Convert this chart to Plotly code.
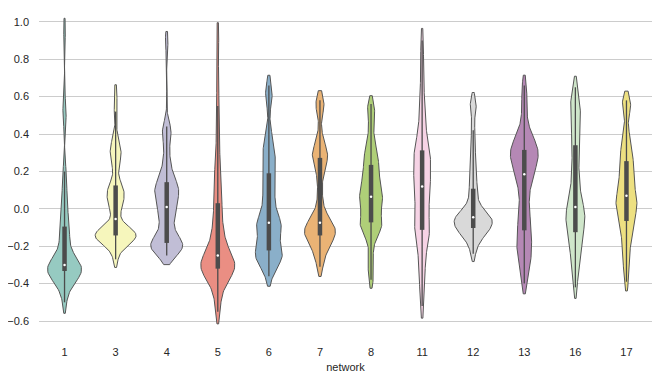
import colorsys
import numpy as np
import plotly.graph_objects as go

networks = ["1", "3", "4", "5", "6", "7", "8", "11", "12", "13", "16", "17"]

palette = ["#8dd3c7", "#ffffb3", "#bebada", "#fb8072", "#80b1d3", "#fdb462",
           "#b3de69", "#fccde5", "#d9d9d9", "#bc80bd", "#ccebc5", "#ffed6f"]

net_1 = [-0.50, -0.45, -0.41, -0.38, -0.37, -0.36, -0.35, -0.35, -0.34, -0.34,
         -0.33, -0.33, -0.33, -0.32, -0.32, -0.32, -0.31, -0.31, -0.31, -0.30,
         -0.30, -0.29, -0.28, -0.26, -0.23, -0.20, -0.17, -0.14, -0.12, -0.10,
         -0.08, -0.05, -0.01, 0.04, 0.09, 0.15, 0.20, 0.50, 0.53, 0.96]
net_3 = [-0.27, -0.22, -0.19, -0.17, -0.16, -0.16, -0.15, -0.15, -0.15, -0.15,
         -0.14, -0.14, -0.14, -0.14, -0.13, -0.13, -0.12, -0.12, -0.11, -0.09,
         -0.02, 0.00, 0.02, 0.04, 0.05, 0.07, 0.08, 0.10, 0.11, 0.12,
         0.14, 0.22, 0.26, 0.28, 0.30, 0.32, 0.35, 0.38, 0.52, 0.62]
net_4 = [-0.25, -0.23, -0.22, -0.21, -0.21, -0.20, -0.20, -0.20, -0.19, -0.19,
         -0.18, -0.17, -0.15, -0.13, -0.10, -0.07, -0.05, -0.03, -0.01, 0.00,
         0.02, 0.04, 0.06, 0.07, 0.08, 0.09, 0.10, 0.11, 0.12, 0.14,
         0.15, 0.17, 0.20, 0.24, 0.28, 0.35, 0.40, 0.42, 0.44, 0.90]
net_5 = [-0.55, -0.49, -0.44, -0.40, -0.37, -0.35, -0.34, -0.33, -0.33, -0.32,
         -0.32, -0.31, -0.31, -0.30, -0.30, -0.29, -0.29, -0.28, -0.27, -0.26,
         -0.24, -0.22, -0.20, -0.18, -0.16, -0.13, -0.10, -0.07, -0.03, 0.02,
         0.06, 0.09, 0.13, 0.17, 0.22, 0.30, 0.40, 0.55, 0.70, 0.93]
net_6 = [-0.36, -0.32, -0.29, -0.27, -0.26, -0.25, -0.25, -0.24, -0.24, -0.23,
         -0.22, -0.20, -0.17, -0.14, -0.12, -0.11, -0.10, -0.09, -0.08, -0.08,
         -0.07, -0.05, -0.02, 0.01, 0.04, 0.07, 0.10, 0.13, 0.16, 0.18,
         0.22, 0.26, 0.28, 0.30, 0.32, 0.36, 0.42, 0.58, 0.61, 0.66]
net_7 = [-0.31, -0.28, -0.25, -0.22, -0.20, -0.18, -0.17, -0.16, -0.15, -0.15,
         -0.14, -0.13, -0.13, -0.12, -0.11, -0.10, -0.10, -0.09, -0.08, -0.08,
         -0.07, -0.05, -0.02, 0.02, 0.08, 0.14, 0.20, 0.24, 0.26, 0.27,
         0.28, 0.29, 0.30, 0.32, 0.35, 0.40, 0.53, 0.55, 0.57, 0.58]
net_8 = [-0.38, -0.33, -0.28, -0.20, -0.15, -0.12, -0.11, -0.10, -0.09, -0.08,
         -0.07, -0.06, -0.04, -0.02, 0.00, 0.02, 0.03, 0.04, 0.05, 0.06,
         0.07, 0.09, 0.10, 0.12, 0.13, 0.15, 0.16, 0.18, 0.20, 0.23,
         0.25, 0.26, 0.28, 0.30, 0.33, 0.37, 0.42, 0.50, 0.53, 0.56]
net_11 = [-0.52, -0.45, -0.38, -0.32, -0.27, -0.22, -0.18, -0.15, -0.13, -0.12,
          -0.11, -0.09, -0.06, -0.03, 0.00, 0.03, 0.05, 0.07, 0.09, 0.11,
          0.13, 0.15, 0.17, 0.19, 0.21, 0.23, 0.25, 0.27, 0.29, 0.31,
          0.32, 0.34, 0.37, 0.41, 0.46, 0.52, 0.58, 0.66, 0.78, 0.90]
net_12 = [-0.24, -0.20, -0.17, -0.15, -0.14, -0.13, -0.12, -0.12, -0.11, -0.11,
          -0.10, -0.09, -0.08, -0.08, -0.07, -0.07, -0.06, -0.06, -0.05, -0.05,
          -0.04, -0.04, -0.04, -0.03, -0.02, -0.01, 0.01, 0.04, 0.07, 0.10,
          0.13, 0.16, 0.20, 0.25, 0.30, 0.36, 0.42, 0.52, 0.55, 0.58]
net_13 = [-0.40, -0.35, -0.30, -0.27, -0.25, -0.23, -0.21, -0.18, -0.15, -0.13,
          -0.11, -0.08, -0.05, -0.02, 0.02, 0.06, 0.10, 0.13, 0.16, 0.18,
          0.19, 0.21, 0.23, 0.25, 0.26, 0.27, 0.28, 0.29, 0.30, 0.31,
          0.33, 0.34, 0.35, 0.36, 0.38, 0.41, 0.45, 0.52, 0.60, 0.66]
net_16 = [-0.42, -0.36, -0.31, -0.27, -0.24, -0.21, -0.19, -0.17, -0.15, -0.14,
          -0.12, -0.10, -0.08, -0.07, -0.05, -0.04, -0.03, -0.02, -0.01, 0.00,
          0.02, 0.04, 0.07, 0.10, 0.13, 0.16, 0.20, 0.24, 0.28, 0.33,
          0.37, 0.40, 0.44, 0.48, 0.51, 0.53, 0.55, 0.57, 0.61, 0.65]
net_17 = [-0.39, -0.34, -0.29, -0.25, -0.21, -0.17, -0.14, -0.11, -0.09, -0.08,
          -0.06, -0.04, -0.02, -0.01, 0.00, 0.02, 0.03, 0.04, 0.05, 0.06,
          0.08, 0.09, 0.11, 0.13, 0.15, 0.17, 0.19, 0.21, 0.23, 0.25,
          0.27, 0.29, 0.31, 0.34, 0.37, 0.41, 0.52, 0.55, 0.57, 0.58]

series = [net_1, net_3, net_4, net_5, net_6, net_7, net_8,
          net_11, net_12, net_13, net_16, net_17]

# style: widest extent of each violin, as a fraction of one category slot
violin_widths = [0.665, 0.80, 0.625, 0.665, 0.53, 0.605, 0.45, 0.33, 0.745, 0.545, 0.37, 0.41]


def desaturate(hex_color, prop=0.75):
    r, g, b = (int(hex_color[i:i + 2], 16) / 255 for i in (1, 3, 5))
    h, l, s = colorsys.rgb_to_hls(r, g, b)
    r, g, b = colorsys.hls_to_rgb(h, l, s * prop)
    return "#%02x%02x%02x" % (round(r * 255), round(g * 255), round(b * 255))


line_gray = "#555555"
box_gray = "#4c4c4c"

fig = go.Figure()
for i, (name, vals, col, w) in enumerate(zip(networks, series, palette, violin_widths)):
    arr = np.asarray(vals, dtype=float)
    # Gaussian KDE, bandwidth = 0.2 * std, support cut one bandwidth past the data
    bw = 0.2 * arr.std(ddof=1)
    grid = np.linspace(arr.min() - bw, arr.max() + bw, 200)
    dens = np.exp(-0.5 * ((grid[:, None] - arr[None, :]) / bw) ** 2).sum(axis=1)
    half = dens / dens.max() * (w / 2)
    xs = np.concatenate([i - half, (i + half)[::-1], [i - half[0]]])
    ys = np.concatenate([grid, grid[::-1], [grid[0]]])
    fig.add_trace(go.Scatter(
        x=xs, y=ys, mode="lines", fill="toself",
        fillcolor=desaturate(col),
        line=dict(color=line_gray, width=1),
        hoverinfo="skip", showlegend=False, name=name,
    ))

    q1, med, q3 = np.percentile(arr, [25, 50, 75])
    iqr = q3 - q1
    lo = arr[arr >= q1 - 1.5 * iqr].min()
    hi = arr[arr <= q3 + 1.5 * iqr].max()
    fig.add_trace(go.Scatter(
        x=[i, i], y=[lo, hi], mode="lines",
        line=dict(color=box_gray, width=1.3),
        hoverinfo="skip", showlegend=False,
    ))
    fig.add_trace(go.Scatter(
        x=[i, i], y=[q1, q3], mode="lines",
        line=dict(color=box_gray, width=4.5),
        hoverinfo="skip", showlegend=False,
    ))
    fig.add_trace(go.Scatter(
        x=[i], y=[med], mode="markers",
        marker=dict(color="white", size=2.5, line=dict(width=0)),
        hoverinfo="skip", showlegend=False,
    ))

font = dict(family="Liberation Sans, Arial, sans-serif", size=11, color="#262626")

# the page body adds an 8px offset, so the figure is sized to 657x372
fig.update_layout(
    width=657, height=372,
    margin=dict(l=31, r=13, t=0, b=40),
    paper_bgcolor="white", plot_bgcolor="white",
    font=font,
    showlegend=False,
    xaxis=dict(
        range=[-0.5, len(networks) - 0.5],
        tickvals=list(range(len(networks))), ticktext=networks,
        showgrid=False, zeroline=False, showline=False,
        ticks="", ticklabelstandoff=4,
        title=dict(text="network", font=font, standoff=6),
    ),
    yaxis=dict(
        range=[-0.7016, 1.074],
        tickvals=[-0.6, -0.4, -0.2, 0.0, 0.2, 0.4, 0.6, 0.8, 1.0],
        tickformat=".1f",
        showgrid=True, gridcolor="#cccccc", gridwidth=1,
        zeroline=False, showline=False,
        ticks="", ticklabelstandoff=9,
    ),
)

fig.write_html("out.html")
